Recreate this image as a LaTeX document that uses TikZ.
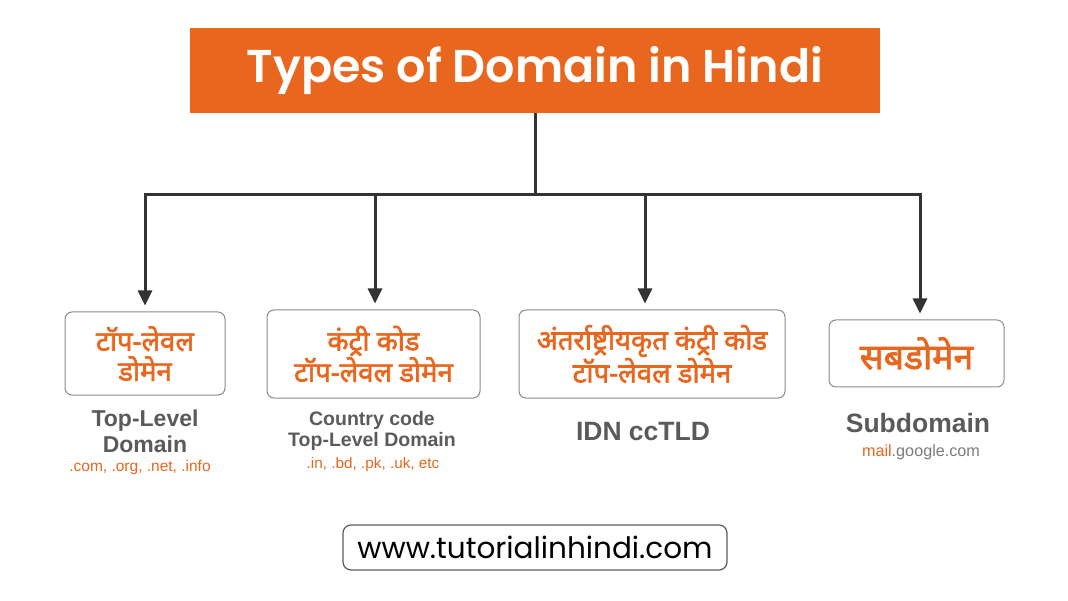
\documentclass[tikz,border=0pt]{standalone}
\usepackage{fontspec}
\setmainfont{Liberation Sans}
\newfontfamily\poppins[BoldFont={Poppins SemiBold}]{Poppins}
\newfontfamily\hindi[Script=Devanagari, AutoFakeBold=2.2]{Noto Sans}
\usetikzlibrary{arrows.meta}
\definecolor{domorange}{HTML}{E9661E}
\definecolor{domgray}{HTML}{5A5A5A}
\definecolor{domline}{HTML}{333333}
\tikzset{typebox/.style={draw=domgray!70, line width=1pt, rounded corners=7pt,
  align=center, text=domorange, font=\hindi\bfseries\fontsize{27.5}{30}\selectfont}}
\tikzset{engtext/.style={align=center, text=domgray, font=\bfseries\fontsize{23}{26}\selectfont}}
\tikzset{exmp/.style={text=domorange, font=\fontsize{15.5}{17}\selectfont}}
\tikzset{branch/.style={draw=domline, line width=3pt,
  -{Triangle[length=15pt,width=14pt]}, shorten >=6pt}}

\begin{document}
\begin{tikzpicture}[x=1pt, y=-1pt]
\useasboundingbox (0,0) rectangle (1068,601);

% title
\node[fill=domorange, minimum width=690pt, minimum height=85pt, text=white,
  font=\poppins\bfseries\fontsize{46}{52}\selectfont] (title) at (535,70.5) {Types of Domain in Hindi};

% boxes
\node[typebox, minimum width=160pt, minimum height=83pt] (tld) at (145,353.5) {टॉप-लेवल\\डोमेन};
\node[typebox, minimum width=213pt, minimum height=88pt] (cctld) at (373.5,354) {कंट्री कोड\\टॉप-लेवल डोमेन};
\node[typebox, minimum width=266pt, minimum height=88pt] (idn) at (652,354) {अंतर्राष्ट्रीयकृत कंट्री कोड\\टॉप-लेवल डोमेन};
\node[typebox, minimum width=175pt, minimum height=67pt,
  font=\hindi\bfseries\fontsize{35.5}{38}\selectfont] (sub) at (916.5,353.5) {सबडोमेन};

% connectors
\coordinate (bus) at (535,195);
\coordinate (j1) at (145,195);
\coordinate (j2) at (375,195);
\coordinate (j3) at (645,195);
\coordinate (j4) at (920,195);
\draw[domline, line width=3pt] (title.south) -- (bus);
\draw[domline, line width=3pt, line cap=rect] (j1) -- (j4);
\draw[branch] (j1) -- (j1 |- tld.north);
\draw[branch] (j2) -- (j2 |- cctld.north);
\draw[branch] (j3) -- (j3 |- idn.north);
\draw[branch] (j4) -- (j4 |- sub.north);

% english names
\node[engtext] (tldname) at (145,431) {Top-Level\\Domain};
\node[exmp] (tldex) at (140,467) {.com, .org, .net, .info};
\node[engtext, font=\bfseries\fontsize{19.5}{21.5}\selectfont] (ccname) at (372,431) {Country code\\Top-Level Domain};
\node[exmp, font=\fontsize{15.3}{17}\selectfont] (ccex) at (373,465) {.in, .bd, .pk, .uk, etc};
\node[engtext, font=\bfseries\fontsize{26.5}{28}\selectfont] (idnname) at (643,432) {IDN ccTLD};
\node[engtext, font=\bfseries\fontsize{26.5}{28}\selectfont] (subname) at (918,423) {Subdomain};
\node[font=\fontsize{16.2}{18}\selectfont, text=domgray!80] (subex) at (921,452) {\textcolor{domorange}{mail}.google.com};

% url
\node[draw=domgray, line width=1.2pt, rounded corners=8pt, minimum width=384pt, minimum height=45pt,
  font=\poppins\fontsize{29.5}{32}\selectfont, text=black] (url) at (535,547.5) {www.tutorialinhindi.com};

\end{tikzpicture}
\end{document}
